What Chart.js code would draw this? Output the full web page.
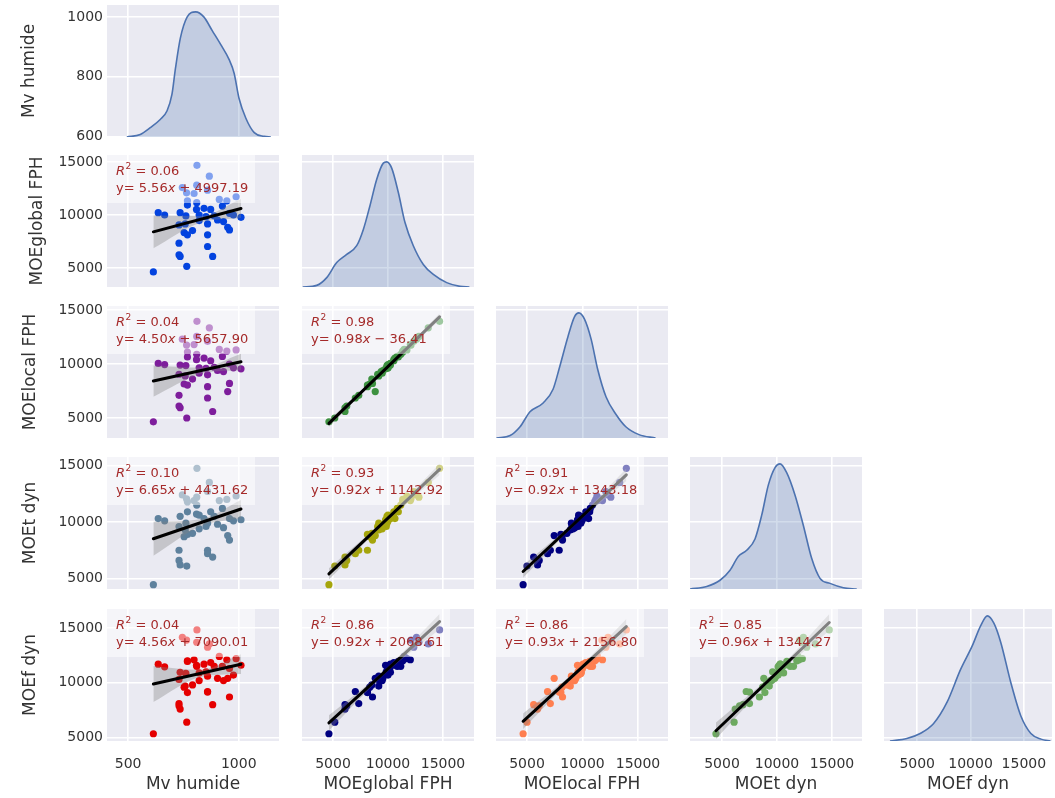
<!DOCTYPE html>
<html>
<head>
<meta charset="utf-8">
<script src="https://cdn.jsdelivr.net/npm/chart.js@4.4.0/dist/chart.umd.min.js"></script>
<style>
body { margin: 0; background: #fff; }
#grid { position: relative; width: 1055px; height: 798px; overflow: hidden; }
#grid canvas { position: absolute; }
</style>
</head>
<body>
<div id="grid"></div>
<script>
var varNames = ['Mv humide', 'MOEglobal FPH', 'MOElocal FPH', 'MOEt dyn', 'MOEf dyn'];

// samples
var mvHumide = [811,867,745,810,859,764,798,768,810,912,946,988,768,809,843,873,926,636,665,735,761,821,852,889,958,976,1010,904,931,821,859,758,730,791,950,958,753,768,859,730,859,730,735,882,765,614];
var moeGlobal = [14690,13660,12590,12810,12340,12090,12030,11340,11160,11470,11340,11720,10940,10530,10630,10530,10840,10220,10000,10220,9910,10000,9840,9910,10160,10000,9780,9530,9380,9470,9160,9160,9060,8530,8840,8590,8340,8130,8130,7340,7030,6250,6090,6090,5160,4630];
var moeLocal = [13950,13350,12300,12550,12100,11750,11800,11100,10900,11350,11200,11300,10650,10400,10550,10300,10700,10050,9950,9900,9850,9650,9600,9700,10000,9650,9550,9400,9300,9150,9000,8900,9050,8600,7450,8200,8150,8050,7900,7100,6850,6100,5950,5600,5000,4650];
var moeTdyn = [14750,13500,12400,12200,12700,12050,11900,11800,11500,11900,12000,12300,10900,10700,10300,10900,11200,10300,10100,10500,9900,10600,9600,10500,10300,10100,10200,9800,9500,9400,9900,9300,9600,9000,8800,8400,8700,8900,7500,7500,7200,6600,6200,6900,6100,4450];
var moeFdyn = [14820,13550,14150,13700,13250,13900,12100,12000,11500,12400,12100,12200,11950,11600,11700,11850,11500,11700,11450,10950,10850,10900,11000,11500,11300,10700,11600,10400,10200,10200,10600,9700,10300,9800,10400,8700,9600,9100,9150,8100,9200,7900,7600,8000,6400,5340];
var columns = [mvHumide, moeGlobal, moeLocal, moeTdyn, moeFdyn];

// diagonal density curves (x value, height relative to the peak)
var kdeMvX = [494,555,600,645,676,698,714,736,767,805,842,880,918,956,979,1001,1032,1070,1115,1145];
var kdeMvH = [0,0.02,0.075,0.14,0.21,0.34,0.55,0.79,0.96,1.0,0.96,0.85,0.74,0.62,0.51,0.31,0.15,0.035,0.005,0];
var kdeGlobalX = [2250,3520,4430,5336,6245,7155,7760,8360,8970,9575,9880,10336,10940,11545,12300,13210,14120,15336,16545,17400];
var kdeGlobalH = [0,0.013,0.075,0.195,0.26,0.33,0.46,0.65,0.86,0.99,1.0,0.95,0.755,0.515,0.33,0.18,0.10,0.035,0.005,0];
var kdeLocalX = [2250,3482,4375,5268,6455,7348,7946,8688,9286,9670,10180,10777,11366,12116,13009,13902,15089,16580];
var kdeLocalH = [0,0.02,0.09,0.21,0.28,0.39,0.57,0.81,0.97,1.0,0.95,0.79,0.55,0.33,0.19,0.09,0.027,0];
var kdeTX = [2100,3610,4820,5730,6480,7245,8000,8610,9210,9820,10270,10880,11640,12390,13150,13910,14820,16030,17245];
var kdeTH = [0,0.02,0.07,0.15,0.26,0.31,0.40,0.59,0.83,0.97,1.0,0.93,0.75,0.51,0.245,0.085,0.045,0.01,0];
var kdeFX = [2450,4030,5280,6540,7800,9060,10160,10945,11575,12200,12830,13770,14720,15660,16600,17500];
var kdeFH = [0,0.02,0.06,0.14,0.31,0.57,0.76,0.92,1.0,0.94,0.79,0.47,0.20,0.06,0.015,0];
var kdeXs = [kdeMvX, kdeGlobalX, kdeLocalX, kdeTX, kdeFX];
var kdeHs = [kdeMvH, kdeGlobalH, kdeLocalH, kdeTH, kdeFH];

// lower-triangle panels and their fitted lines
var pairRows = [1,2,2,3,3,3,4,4,4,4];
var pairCols = [0,0,1,0,1,2,0,1,2,3];
var slopes = [5.56,4.50,0.98,6.65,0.92,0.92,4.56,0.92,0.93,0.96];
var intercepts = [4997.19,5657.90,-36.41,4431.62,1142.92,1343.18,7090.01,2068.61,2156.80,1344.27];
var r2Values = [0.06,0.04,0.98,0.10,0.93,0.91,0.04,0.86,0.86,0.85];
var bandHalf = [[1550,320,900],[1450,300,750],[320,110,320],[1500,320,800],[500,150,500],[550,150,550],[1650,330,900],[700,200,700],[700,200,700],[750,200,750]];
var pointColors = ['#0343df','#7e1e9c','#3d9140','#5e819d','#a5a50c','#000080','#e50000','#000080','#ff7f50','#6daa60'];

var xTickVals = [[500,1000],[5000,10000,15000],[5000,10000,15000],[5000,10000,15000],[5000,10000,15000]];
var yTickVals = [[600,800,1000],[5000,10000,15000],[5000,10000,15000],[5000,10000,15000],[5000,10000,15000]];

// panel boxes in page pixels and axis ranges
var colLeft = [107, 302, 496, 690, 884], colRight = [279, 474, 668, 862, 1052];
var rowTop = [5, 155, 306, 457, 609], rowBottom = [137, 287, 438, 589, 741];
var colMin = [404.5, 2182, 2207, 2091, 1887], colMax = [1181.8, 17818, 17703, 17727, 17640];
var rowMin = [598, 3208, 3148, 4071, 4680], rowMax = [1040, 15660, 15370, 15752, 16735];
var yTitlePad = [19, 27, 20, 20, 20];
var MARGIN = 16;

var FONT = 'DejaVu Sans';
var TXT = '#333333';

var panelBg = {
  id: 'panelBg',
  beforeDraw: function(chart) {
    var a = chart.chartArea, ctx = chart.ctx;
    ctx.save();
    ctx.fillStyle = '#eaeaf2';
    ctx.fillRect(a.left, a.top, a.right - a.left, a.bottom - a.top);
    ctx.restore();
  }
};

function annotPlugin(k) {
  return {
    id: 'annot',
    afterDatasetsDraw: function(chart) {
      var a = chart.chartArea, ctx = chart.ctx;
      ctx.save();
      ctx.fillStyle = 'rgba(255,255,255,0.5)';
      ctx.fillRect(a.left, a.top, 148, 48);
      ctx.fillStyle = '#a52a2a';
      ctx.textBaseline = 'middle';
      var x = a.left + 9, y1 = a.top + 17, y2 = a.top + 34;
      ctx.font = 'italic 13px "' + FONT + '"';
      ctx.fillText('R', x, y1);
      x += ctx.measureText('R').width + 0.5;
      ctx.font = '9px "' + FONT + '"';
      ctx.fillText('2', x, y1 - 5);
      x += ctx.measureText('2').width;
      ctx.font = '13px "' + FONT + '"';
      ctx.fillText(' = ' + r2Values[k].toFixed(2), x, y1);

      x = a.left + 9;
      var s1 = 'y= ' + slopes[k].toFixed(2);
      ctx.fillText(s1, x, y2);
      x += ctx.measureText(s1).width;
      ctx.font = 'italic 13px "' + FONT + '"';
      ctx.fillText('x', x, y2);
      x += ctx.measureText('x').width;
      ctx.font = '13px "' + FONT + '"';
      var b = intercepts[k];
      ctx.fillText((b < 0 ? ' \u2212 ' : ' + ') + Math.abs(b).toFixed(2), x, y2);
      ctx.restore();
    }
  };
}

function makePanel(r, c, datasets, plugins, diag) {
  var cl = c === 0 ? 0 : colLeft[c] - MARGIN;
  var cr = colRight[c] + MARGIN;
  var ct = rowTop[r] - MARGIN;
  var cb = r === 4 ? 798 : rowBottom[r] + MARGIN;
  var cv = document.createElement('canvas');
  cv.width = cr - cl;
  cv.height = cb - ct;
  cv.style.left = cl + 'px';
  cv.style.top = ct + 'px';
  document.getElementById('grid').appendChild(cv);

  var scales = {
    x: {
      type: 'linear', min: colMin[c], max: colMax[c],
      afterBuildTicks: function(s) { s.ticks = xTickVals[c].map(function(v) { return {value: v}; }); },
      afterFit: function(s) { s.height = r === 4 ? 798 - rowBottom[4] : 0; },
      grid: {color: '#ffffff', lineWidth: 1.6, drawTicks: false},
      border: {display: false},
      ticks: {display: r === 4, padding: 15, color: TXT, font: {family: FONT, size: 14},
              maxRotation: 0, autoSkip: false, callback: function(v) { return String(v); }},
      title: {display: r === 4, text: varNames[c], color: TXT, font: {family: FONT, size: 17},
              padding: {top: 0, bottom: 3}}
    },
    y: {
      type: 'linear', min: rowMin[r], max: rowMax[r],
      afterBuildTicks: function(s) { s.ticks = yTickVals[r].map(function(v) { return {value: v}; }); },
      afterFit: function(s) { s.width = c === 0 ? colLeft[0] : 0; },
      grid: {color: '#ffffff', lineWidth: 1.6, drawTicks: false},
      border: {display: false},
      ticks: {display: c === 0, padding: 4, color: TXT, font: {family: FONT, size: 14},
              autoSkip: false, callback: function(v) { return String(v); }},
      title: {display: c === 0, text: varNames[r], color: TXT, font: {family: FONT, size: 17},
              padding: {top: yTitlePad[r], bottom: 0}}
    }
  };
  if (diag) scales.yd = {type: 'linear', display: false, min: 0, max: 1.055};

  new Chart(cv, {
    type: 'scatter',
    data: {datasets: datasets},
    options: {
      responsive: false,
      animation: false,
      events: [],
      layout: {padding: {left: c === 0 ? 0 : MARGIN, right: MARGIN,
                         top: MARGIN, bottom: r === 4 ? 0 : MARGIN}},
      plugins: {legend: {display: false}, tooltip: {enabled: false}},
      scales: scales
    },
    plugins: [panelBg].concat(plugins)
  });
}

// diagonal: density curves
for (var d = 0; d < 5; d++) {
  var pts = kdeXs[d].map(function(x, i) { return {x: x, y: kdeHs[d][i]}; });
  makePanel(d, d, [{
    data: pts, yAxisID: 'yd', showLine: true, pointRadius: 0,
    borderColor: '#4c72b0', borderWidth: 1.6, backgroundColor: 'rgba(76,114,176,0.25)',
    fill: 'origin', cubicInterpolationMode: 'monotone'
  }], [], true);
}

// lower triangle: scatter + fitted line + confidence band
for (var k = 0; k < pairRows.length; k++) {
  var r = pairRows[k], c = pairCols[k];
  var xs = columns[c], ys = columns[r];
  var xmin = Math.min.apply(null, xs), xmax = Math.max.apply(null, xs);
  var xmean = xs.reduce(function(s, v) { return s + v; }, 0) / xs.length;
  var a = slopes[k], b = intercepts[k], h = bandHalf[k];
  var bx = [xmin, xmean, xmax];
  var lower = bx.map(function(x, i) { return {x: x, y: a * x + b - h[i]}; });
  var upper = bx.map(function(x, i) { return {x: x, y: a * x + b + h[i]}; });
  makePanel(r, c, [
    {data: xs.map(function(x, i) { return {x: x, y: ys[i]}; }), pointRadius: 3.6,
     backgroundColor: pointColors[k], borderWidth: 0, order: 3},
    {data: lower, showLine: true, pointRadius: 0, borderWidth: 0, fill: false,
     cubicInterpolationMode: 'monotone', order: 2},
    {data: upper, showLine: true, pointRadius: 0, borderWidth: 0, fill: '-1',
     backgroundColor: 'rgba(130,130,130,0.35)', cubicInterpolationMode: 'monotone', order: 2},
    {data: [{x: xmin, y: a * xmin + b}, {x: xmax, y: a * xmax + b}], showLine: true,
     pointRadius: 0, borderColor: '#000000', borderWidth: 3, borderCapStyle: 'round', order: 1}
  ], [annotPlugin(k)], false);
}
</script>
</body>
</html>
